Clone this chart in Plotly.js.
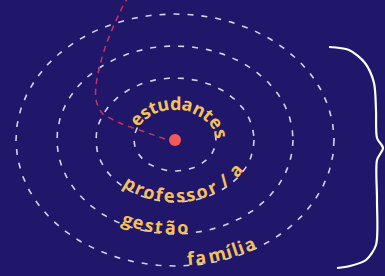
<!DOCTYPE html>
<html>
<head>
<meta charset="utf-8">
<script src="https://cdn.plot.ly/plotly-3.0.1.min.js"></script>
<style>
html,body{margin:0;padding:0;background:#20166a;overflow:hidden;}
#chart{width:385px;height:276px;}
</style>
</head>
<body>
<div id="chart"></div>
<script>
// ---- data ----
const labels = ['estudantes', 'professor / a', 'gestão', 'família'];
const ringRx = [41, 79, 118, 159];
const ringRy = [31, 62, 94, 126];
const pathX = [165, 145, 120, 102, 96, 96, 100, 106, 114, 123, 130];
const pathY = [139, 132, 123, 113, 100, 85, 65, 45, 25, 6, -6];
const braceX = [329, 349, 365, 374, 376, 377, 383, 377, 377, 376, 366, 350, 337];
const braceY = [47, 50, 63, 83, 110, 138, 148, 160, 200, 245, 260, 266, 268];

// ---- layout constants ----
const W = 385, H = 276;
const cx = 175, cy = 140;
const labelRing = [0, 1, 2, 3];
const labelT0 = [213, 128, 115, 84];
const labelT1 = [350, 34, 86, 61];
const labelOff = [6, 7, 7, 7];
const ringArc0 = [350, 0, 0, 0];
const ringArc1 = [570, 360, 360, 360];
const FS = 18;
const FONT_FAMILY = 'Open Sans';
const TEXT_COLOR = '#f4c15c';
const BG = '#20166a';

const rad = d => d * Math.PI / 180;
function ellipsePt(r, tDeg) {
  return [cx + ringRx[r] * Math.cos(rad(tDeg)), cy + ringRy[r] * Math.sin(rad(tDeg))];
}

const traces = [];
// rings
for (let r = 0; r < ringRx.length; r++) {
  const xs = [], ys = [];
  const n = 240;
  for (let i = 0; i <= n; i++) {
    const t = ringArc0[r] + (ringArc1[r] - ringArc0[r]) * i / n;
    const p = ellipsePt(r, t);
    xs.push(p[0]); ys.push(p[1]);
  }
  traces.push({x: xs, y: ys, mode: 'lines', hoverinfo: 'skip',
    line: {color: 'rgba(228,228,248,0.92)', width: 1.6, dash: '6px,8px'}});
}
// red path
traces.push({x: pathX, y: pathY, mode: 'lines', hoverinfo: 'skip',
  line: {color: '#c8325f', width: 1.5, dash: '6px,5px', shape: 'spline', smoothing: 0.8}});
// brace
traces.push({x: braceX, y: braceY, mode: 'lines', hoverinfo: 'skip',
  line: {color: '#ffffff', width: 2.2, shape: 'spline', smoothing: 0.8}});
// center dot
traces.push({x: [cx], y: [cy], mode: 'markers', hoverinfo: 'skip',
  marker: {color: '#f25a5a', size: 12}});

// curved labels: one annotation per character
const canvas = document.createElement('canvas');
const ctx = canvas.getContext('2d');
ctx.font = '700 ' + FS + 'px "' + FONT_FAMILY + '"';
const annotations = [];
labels.forEach((txt, li) => {
  const r = labelRing[li];
  const t0 = labelT0[li], t1 = labelT1[li];
  const n = 600;
  const pts = [], cum = [0];
  for (let i = 0; i <= n; i++) {
    pts.push(ellipsePt(r, t0 + (t1 - t0) * i / n));
    if (i > 0) cum.push(cum[i - 1] + Math.hypot(pts[i][0] - pts[i - 1][0], pts[i][1] - pts[i - 1][1]));
  }
  const L = cum[n];
  const chars = Array.from(txt);
  const w = chars.map(c => ctx.measureText(c).width);
  const total = w.reduce((a, b) => a + b, 0);
  const span = total - w[0] / 2 - w[w.length - 1] / 2;
  let acc = 0;
  chars.forEach((c, i) => {
    const centerPos = acc + w[i] / 2 - w[0] / 2;
    acc += w[i];
    if (c === ' ') return;
    const s = span > 0 ? centerPos / span * L : 0;
    let k = 1;
    while (k < n && cum[k] < s) k++;
    const f = (s - cum[k - 1]) / Math.max(1e-9, cum[k] - cum[k - 1]);
    const px = pts[k - 1][0] + (pts[k][0] - pts[k - 1][0]) * f;
    const py = pts[k - 1][1] + (pts[k][1] - pts[k - 1][1]) * f;
    let dx = pts[k][0] - pts[k - 1][0], dy = pts[k][1] - pts[k - 1][1];
    const dl = Math.hypot(dx, dy); dx /= dl; dy /= dl;
    const ux = dy, uy = -dx; // text "up" direction
    annotations.push({
      x: px + ux * labelOff[li], y: py + uy * labelOff[li],
      xref: 'x', yref: 'y', text: c, showarrow: false,
      xanchor: 'center', yanchor: 'middle',
      textangle: Math.atan2(dy, dx) * 180 / Math.PI,
      font: {family: FONT_FAMILY, size: FS, color: TEXT_COLOR, weight: 700},
      borderpad: 0
    });
  });
});

const layout = {
  width: W, height: H,
  margin: {l: 0, r: 0, t: 0, b: 0, pad: 0},
  paper_bgcolor: BG, plot_bgcolor: BG,
  showlegend: false,
  xaxis: {range: [0, W], visible: false, fixedrange: true},
  yaxis: {range: [H, 0], visible: false, fixedrange: true},
  annotations: annotations
};
Plotly.newPlot('chart', traces, layout, {displayModeBar: false, staticPlot: true});
</script>
</body>
</html>
